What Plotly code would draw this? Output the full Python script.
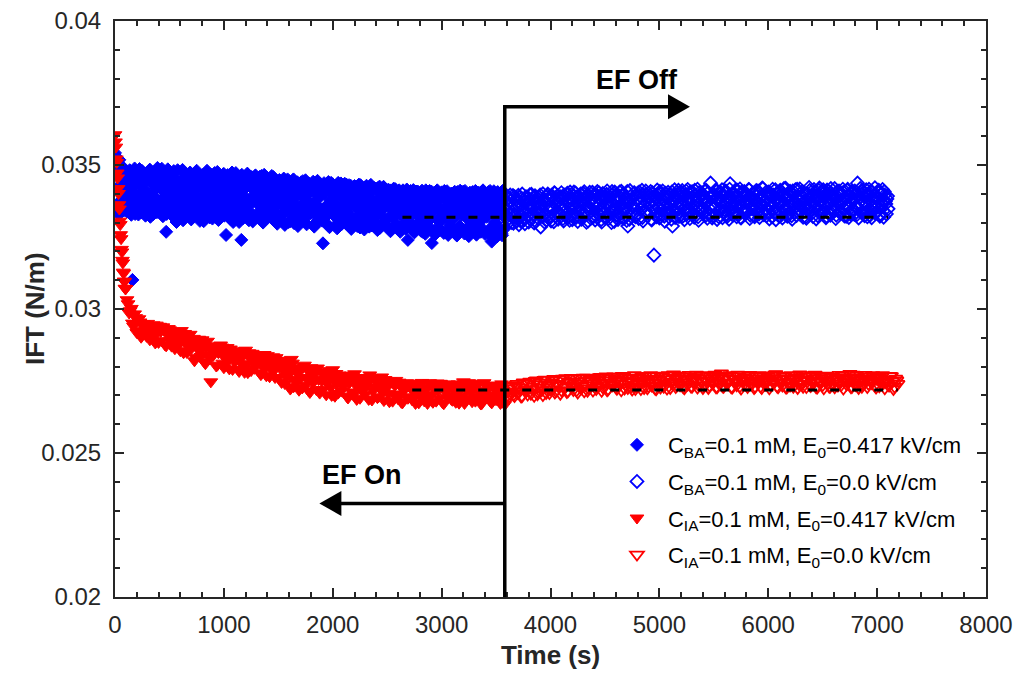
import numpy as np
import plotly.graph_objects as go

# ---------------------------------------------------------------------------
# Interfacial tension (mN/m) of the two surfactant systems.
# Each run is stored as two interleaved read-outs of the tensiometer
# (main samples and the samples half a step later).
# ---------------------------------------------------------------------------
DT_BA = 10        # s, sampling interval of each BA read-out
DT_IA = 20        # s, sampling interval of each IA read-out
T_SWITCH = 3580   # s, electric field switched off

T_BA_ON0, T_BA_ON_MID0 = 0, 5
T_BA_OFF0, T_BA_OFF_MID0 = 3590, 3595
T_IA_ON0, T_IA_ON_MID0 = 100, 110
T_IA_OFF0, T_IA_OFF_MID0 = 3590, 3600

# BA, E0 = 0.417 kV/cm, every 10 s from t = 0
ift_ba_on = [
    35.42, 33.55, 34.93, 33.31, 35.18, 34.12, 33.78, 34.64, 33.42, 34.27,
    34.71, 33.38, 34.05, 33.86, 34.52, 33.27, 31.01, 33.64, 34.88, 33.95,
    33.52, 34.63, 33.91, 34.27, 33.35, 34.79, 33.70, 34.12, 33.24, 34.45,
    34.02, 33.46, 34.84, 33.63, 34.36, 33.29, 34.58, 33.88, 34.19, 34.90,
    33.40, 34.55, 33.77, 34.87, 33.22, 34.08, 33.59, 32.68, 34.41, 33.96,
    34.68, 33.33, 34.24, 33.81, 34.79, 33.15, 34.47, 33.69, 34.02, 33.48,
    34.35, 33.90, 34.83, 33.21, 34.12, 33.58, 34.62, 33.37, 33.98, 34.74,
    33.11, 34.43, 33.75, 34.18, 33.46, 34.80, 33.62, 34.29, 33.06, 34.55,
    33.87, 34.66, 33.28, 34.09, 33.53, 34.72, 33.94, 33.18, 34.37, 33.71,
    34.58, 33.39, 34.15, 33.82, 34.76, 33.09, 34.44, 33.61, 34.03, 33.25,
    34.69, 33.74, 32.57, 34.26, 33.50, 34.61, 33.13, 34.08, 33.87, 34.40,
    33.34, 34.72, 33.65, 34.17, 33.02, 34.49, 32.40, 33.93, 34.60, 33.44,
    34.21, 33.57, 34.68, 33.08, 34.35, 33.79, 34.52, 33.26, 33.98, 34.64,
    33.69, 34.43, 33.17, 34.59, 33.85, 34.10, 33.00, 34.66, 33.48, 34.28,
    34.55, 33.31, 34.02, 33.72, 34.62, 33.12, 34.39, 33.56, 34.14, 32.96,
    33.83, 34.48, 33.23, 34.07, 33.60, 34.53, 32.92, 34.25, 33.41, 33.95,
    34.44, 33.05, 34.18, 33.66, 34.50, 33.28, 33.90, 34.33, 32.88, 34.02,
    33.52, 34.40, 33.14, 34.21, 33.73, 34.47, 32.94, 33.99, 34.36, 33.36,
    34.11, 33.44, 34.42, 32.86, 34.03, 33.62, 34.45, 33.19, 33.88, 34.29,
    33.07, 32.28, 34.37, 33.54, 34.15, 33.30, 34.41, 32.84, 33.76, 34.08,
    34.33, 33.25, 33.93, 34.19, 32.80, 34.38, 33.47, 34.01, 33.12, 34.26,
    33.58, 34.35, 32.98, 34.12, 33.38, 34.30, 33.70, 32.78, 34.22, 33.84,
    34.27, 33.16, 34.05, 33.49, 34.32, 32.83, 33.95, 34.17, 33.34, 32.76,
    33.89, 34.28, 33.03, 34.10, 33.61, 34.31, 32.90, 33.77, 34.20, 33.22,
    34.16, 32.74, 33.82, 34.25, 33.40, 33.99, 32.95, 34.23, 33.55, 34.06,
    33.10, 34.14, 33.67, 32.70, 34.09, 33.32, 34.18, 32.87, 33.91, 34.02,
    33.44, 34.12, 32.68, 33.86, 34.07, 33.21, 33.97, 32.79, 34.15, 32.40,
    33.73, 34.04, 32.96, 33.58, 34.13, 32.66, 33.89, 33.28, 34.08, 33.01,
    33.80, 32.72, 34.11, 33.37, 33.95, 32.61, 34.06, 33.52, 32.85, 34.10,
    33.15, 32.29, 33.84, 34.03, 32.59, 33.70, 34.12, 33.06, 33.92, 32.75,
    34.05, 33.42, 32.64, 33.98, 33.19, 34.09, 32.57, 33.77, 33.33, 34.01,
    32.70, 33.87, 34.07, 33.26, 32.55, 33.94, 33.60, 34.11, 32.81, 33.47,
    34.08, 32.62, 33.71, 33.99, 33.12, 32.53, 34.04, 33.55, 32.91, 33.90,
    33.36, 34.10, 32.58, 33.83, 33.05, 34.02, 32.68, 33.64, 34.12, 33.17,
    32.60, 33.93, 33.44, 34.06, 32.77, 33.68, 32.34, 33.88, 34.09, 33.00,
    33.58, 32.52, 34.03, 33.29, 33.85, 32.63, 34.10, 33.41, 32.80,
]
# BA, E0 = 0.417 kV/cm, every 10 s from t = 5
ift_ba_on_mid = [
    34.85, 33.40, 35.05, 33.70, 34.30, 33.35, 34.95, 33.92, 34.48, 33.60,
    33.50, 34.60, 33.80, 34.82, 33.45, 34.20, 33.62, 34.40, 33.30, 34.75,
    34.38, 33.28, 34.86, 33.67, 34.03, 33.44, 34.52, 33.84, 34.70, 33.33,
    33.58, 34.74, 33.20, 34.46, 33.93, 34.66, 33.48, 34.25, 33.36, 34.57,
    34.30, 33.68, 34.78, 33.45, 34.60, 33.86, 34.18, 33.30, 34.85, 33.52,
    33.95, 34.56, 33.24, 34.70, 33.56, 34.34, 33.02, 34.82, 33.40, 34.14,
    33.64, 34.50, 33.08, 34.40, 33.80, 34.68, 33.30, 34.22, 33.55, 34.06,
    34.62, 33.36, 34.05, 33.90, 34.70, 33.25, 34.35, 33.82, 34.58, 33.44,
    34.20, 33.05, 34.48, 33.66, 34.80, 33.40, 34.26, 33.58, 34.65, 33.14,
    33.80, 34.72, 33.52, 34.38, 33.20, 34.60, 33.86, 34.12, 33.48, 34.68,
    33.24, 34.44, 33.90, 34.65, 33.36, 34.18, 33.62, 34.74, 33.02, 34.30,
    34.06, 33.58, 34.56, 33.30, 34.38, 33.76, 34.66, 33.15, 34.24, 33.88,
    33.46, 34.70, 33.20, 34.46, 33.64, 34.58, 33.04, 34.12, 33.82, 34.36,
    34.52, 33.34, 34.20, 33.78, 34.62, 33.50, 34.30, 33.12, 34.56, 33.90,
    33.66, 34.46, 33.22, 34.30, 33.92, 34.58, 33.40, 34.06, 33.00, 34.40,
    34.36, 33.12, 34.10, 33.70, 34.45, 33.36, 34.00, 33.55, 34.50, 33.02,
    33.74, 34.30, 33.45, 34.48, 32.98, 34.12, 33.58, 34.40, 33.20, 34.22,
    34.26, 33.08, 34.44, 33.40, 34.05, 33.82, 34.34, 33.26, 34.18, 33.60,
    33.34, 34.36, 33.70, 34.10, 33.00, 34.40, 33.52, 34.24, 33.12, 34.02,
    34.28, 33.46, 34.00, 33.20, 34.34, 32.92, 34.12, 33.66, 34.38, 33.40,
    33.68, 34.12, 32.90, 34.30, 33.58, 34.06, 33.30, 34.36, 32.96, 33.82,
    34.20, 33.04, 34.32, 33.52, 34.02, 33.22, 34.28, 33.78, 33.00, 34.14,
    33.60, 34.24, 32.88, 34.08, 33.72, 34.30, 33.10, 34.00, 33.46, 34.22,
    33.40, 34.02, 33.66, 32.86, 34.26, 33.30, 34.12, 33.54, 33.02, 34.18,
    33.26, 34.20, 33.62, 32.82, 34.06, 33.78, 34.24, 33.14, 33.92, 34.10,
    33.84, 32.80, 34.12, 33.48, 34.00, 33.18, 33.70, 34.16, 32.94, 33.58,
    34.05, 33.30, 33.80, 32.76, 34.12, 33.56, 33.02, 34.02, 33.38, 33.90,
    33.20, 34.10, 33.50, 32.74, 33.96, 33.34, 34.08, 32.90, 33.76, 34.00,
    33.56, 34.06, 32.68, 33.90, 33.24, 34.12, 33.00, 33.66, 34.04, 33.30,
    34.08, 33.40, 32.70, 33.86, 33.58, 34.10, 32.84, 33.48, 33.98, 33.22,
    33.12, 33.90, 34.10, 32.66, 33.60, 33.30, 34.00, 32.92, 33.84, 33.50,
    33.96, 33.18, 32.62, 33.74, 34.06, 33.40, 32.88, 33.82, 33.26, 34.02,
    33.44, 34.10, 32.78, 33.60, 33.22, 33.92, 32.64, 33.80, 34.06, 33.10,
    33.88, 32.64, 33.52, 34.04, 32.90, 33.74, 33.30, 34.08, 32.72, 33.58,
    34.00, 33.20, 32.66, 33.78, 34.10, 33.36, 32.58, 33.96, 33.46, 32.88,
    33.72, 34.06, 32.70, 33.50, 33.94, 32.56, 33.80, 33.24,
]

# BA, E0 = 0.0 kV/cm, every 10 s from t = 3590
ift_ba_off = [
    33.40, 32.95, 33.82, 33.15, 33.96, 33.31, 33.68, 32.98, 33.90, 33.52,
    33.05, 33.74, 32.93, 33.88, 33.27, 33.99, 33.46, 33.11, 33.85, 33.36,
    33.62, 33.02, 33.97, 33.21, 33.80, 33.49, 32.99, 33.92, 33.34, 33.70,
    33.14, 33.87, 32.85, 33.58, 34.00, 33.25, 33.76, 33.08, 33.93, 33.44,
    33.81, 33.19, 33.95, 33.52, 33.03, 34.02, 33.37, 33.72, 33.12, 33.89,
    33.29, 34.04, 33.61, 33.06, 33.85, 33.41, 33.98, 33.17, 33.73, 34.06,
    33.50, 33.10, 33.91, 33.32, 34.03, 33.66, 33.04, 33.86, 33.45, 33.99,
    33.22, 33.79, 34.07, 33.39, 33.01, 33.94, 33.57, 34.05, 33.15, 33.83,
    33.63, 33.96, 33.09, 33.75, 34.08, 33.28, 33.87, 33.47, 33.02, 34.01,
    33.35, 33.90, 33.64, 34.10, 33.13, 33.81, 33.53, 33.00, 33.97, 33.42,
    34.06, 33.26, 33.77, 33.11, 33.92, 33.58, 34.09, 33.18, 33.70, 33.48,
    33.89, 33.07, 32.88, 33.66, 34.11, 33.33, 33.84, 33.55, 34.04, 33.20,
    33.60, 34.02, 33.14, 33.93, 33.44, 34.12, 33.06, 33.79, 33.37, 33.98,
    33.24, 33.86, 33.71, 34.08, 33.09, 33.51, 31.87, 33.95, 33.30, 34.13,
    33.78, 33.16, 33.99, 33.43, 34.10, 33.62, 33.05, 33.88, 33.34, 34.05,
    33.50, 33.94, 33.12, 32.88, 33.82, 34.14, 33.39, 33.70, 34.01, 33.21,
    33.91, 33.27, 34.11, 33.59, 33.10, 33.97, 33.46, 34.15, 33.68, 33.14,
    33.36, 34.07, 33.74, 33.19, 33.96, 33.53, 34.16, 33.08, 33.85, 33.44,
    34.03, 33.31, 33.89, 33.65, 34.12, 33.15, 33.77, 33.48, 34.37, 33.92,
    33.23, 33.98, 33.58, 34.14, 33.11, 33.86, 33.40, 34.06, 33.69, 33.17,
    33.94, 33.45, 34.10, 33.28, 33.80, 33.12, 34.35, 33.61, 33.99, 33.38,
    33.73, 34.13, 33.20, 33.90, 33.52, 34.17, 33.16, 33.83, 33.41, 34.08,
    33.30, 33.95, 33.67, 34.15, 33.14, 33.88, 33.49, 34.03, 33.24, 33.79,
    34.11, 33.39, 33.97, 33.18, 33.84, 33.58, 34.18, 33.27, 33.91, 33.46,
    33.63, 34.06, 33.13, 33.93, 33.50, 34.16, 33.35, 33.81, 33.10, 34.02,
    33.89, 33.22, 34.12, 33.70, 33.16, 33.98, 33.43, 34.19, 33.57, 33.85,
    33.34, 34.09, 33.76, 33.12, 33.95, 33.51, 34.14, 33.25, 33.87, 33.62,
    34.17, 33.41, 33.90, 33.19, 34.04, 33.66, 33.15, 33.99, 33.47, 34.11,
    33.56, 33.93, 33.21, 34.15, 33.72, 33.13, 33.86, 33.44, 34.20, 33.30,
    33.80, 34.07, 33.37, 33.96, 33.17, 34.13, 33.60, 33.89, 33.26, 34.02,
    33.48, 33.91, 34.18, 33.14, 33.83, 33.55, 34.10, 33.33, 33.97, 33.69,
    34.05, 33.23, 33.88, 33.61, 34.16, 33.18, 33.94, 33.42, 34.08, 33.75,
    33.29, 33.99, 33.52, 34.37, 33.16, 33.87, 33.64, 34.12, 33.38, 33.92,
    33.71, 34.14, 33.20, 33.95, 33.46, 34.09, 33.17, 33.84, 33.58, 34.21,
    33.36, 33.90, 34.06, 33.27, 33.79, 33.53, 34.15, 33.19, 33.96, 33.65,
    33.82, 33.48,
]
# BA, E0 = 0.0 kV/cm, every 10 s from t = 3595
ift_ba_off_mid = [
    33.62, 33.10, 33.88, 33.28, 33.75, 33.00, 33.94, 33.45, 33.18, 33.80,
    33.32, 33.95, 33.56, 33.06, 33.84, 33.40, 33.70, 32.96, 33.90, 33.24,
    33.86, 33.42, 33.12, 33.98, 33.60, 33.26, 33.92, 33.04, 33.66, 33.50,
    33.36, 33.96, 33.64, 33.22, 33.82, 33.02, 33.74, 33.48, 33.99, 33.16,
    33.56, 33.06, 33.88, 33.44, 34.04, 33.24, 33.68, 33.94, 33.32, 33.78,
    33.90, 33.42, 33.14, 33.96, 33.58, 33.28, 34.02, 33.70, 33.08, 33.84,
    33.26, 33.80, 34.06, 33.52, 33.18, 33.90, 33.38, 33.74, 33.98, 33.12,
    33.68, 34.00, 33.30, 33.86, 33.56, 33.06, 33.94, 33.40, 33.76, 34.05,
    33.20, 33.72, 33.50, 33.96, 33.34, 34.04, 33.62, 33.10, 33.88, 33.44,
    33.82, 33.16, 33.98, 33.58, 33.26, 33.90, 33.40, 34.08, 33.66, 33.04,
    33.46, 33.92, 33.24, 33.76, 34.06, 33.36, 33.62, 33.98, 33.14, 33.84,
    33.70, 34.08, 33.42, 33.12, 33.90, 33.60, 33.28, 34.02, 33.50, 33.80,
    33.26, 33.86, 34.06, 33.46, 33.72, 33.18, 33.96, 33.58, 34.10, 33.34,
    33.90, 33.40, 33.64, 33.12, 34.04, 33.76, 33.44, 33.84, 33.20, 33.98,
    33.52, 34.08, 33.28, 33.80, 33.60, 33.22, 34.02, 33.46, 33.92, 33.66,
    33.30, 33.74, 34.06, 33.40, 33.96, 33.18, 33.86, 33.56, 34.12, 33.36,
    33.64, 34.04, 33.22, 33.92, 33.50, 34.10, 33.30, 33.80, 33.44, 34.06,
    33.86, 33.26, 33.60, 34.12, 33.38, 33.78, 33.20, 34.04, 33.54, 33.94,
    33.42, 33.84, 34.10, 33.24, 33.70, 34.02, 33.32, 33.90, 33.60, 33.16,
    33.94, 33.52, 33.28, 34.08, 33.76, 33.20, 33.98, 33.46, 34.14, 33.62,
    33.34, 34.02, 33.66, 33.22, 33.88, 34.16, 33.42, 33.74, 33.26, 34.00,
    33.56, 33.90, 34.12, 33.32, 33.70, 33.18, 34.06, 33.50, 33.94, 33.36,
    33.98, 33.44, 33.76, 34.14, 33.26, 33.84, 33.58, 34.00, 33.20, 33.72,
    33.50, 34.10, 33.30, 33.88, 33.62, 34.20, 33.40, 33.76, 34.04, 33.24,
    33.86, 33.36, 34.02, 33.58, 33.20, 33.96, 33.70, 34.14, 33.32, 33.82,
    33.44, 34.06, 33.72, 33.28, 33.92, 34.18, 33.52, 33.80, 33.22, 34.00,
    33.96, 33.54, 33.24, 34.10, 33.68, 33.36, 33.90, 34.16, 33.46, 33.76,
    33.28, 33.84, 34.08, 33.52, 33.74, 33.20, 33.98, 33.42, 34.22, 33.62,
    33.90, 33.34, 33.70, 34.06, 33.48, 33.94, 33.24, 34.12, 33.60, 33.80,
    33.38, 34.14, 33.58, 33.86, 33.22, 34.02, 33.72, 33.30, 34.18, 33.52,
    33.96, 33.40, 33.82, 33.26, 34.08, 33.64, 33.98, 33.34, 33.76, 34.16,
    33.50, 33.88, 33.22, 34.12, 33.60, 33.92, 33.30, 34.04, 33.44, 33.84,
    34.10, 33.56, 33.28, 33.94, 33.70, 34.18, 33.36, 33.82, 34.02, 33.24,
    33.62, 33.96, 33.42, 34.16, 33.26, 33.78, 34.06, 33.50, 33.90, 33.32,
    33.86, 33.54, 34.12, 33.22, 33.98, 33.66, 33.40, 34.08, 33.74, 33.30,
    33.92,
]

# IA, E0 = 0.417 kV/cm: fast initial drop recorded every 4 s
t_ia_start = [0, 4, 8, 12, 16, 20, 24, 28, 32, 36, 40, 44, 48,
              52, 56, 60, 64, 68, 72, 76, 80, 84, 88, 92, 96]
ift_ia_start = [
    36.05, 35.80, 35.62, 35.21, 35.09, 34.72, 34.55, 34.18, 34.01, 33.62,
    33.47, 33.05, 32.93, 32.58, 32.44, 32.07, 31.98, 31.69, 31.60, 31.28,
    31.24, 30.97, 30.95, 30.72, 30.70,
]
# IA, E0 = 0.417 kV/cm, every 20 s from t = 100
ift_ia_on = [
    30.71, 30.18, 29.94, 29.51, 29.83, 29.18, 29.66, 29.02, 29.49, 29.27,
    29.50, 28.93, 29.36, 29.08, 29.44, 28.84, 29.22, 29.38, 28.75, 29.12,
    29.28, 28.71, 29.04, 28.88, 29.22, 28.55, 28.97, 29.15, 28.49, 28.83,
    28.62, 28.98, 28.31, 28.80, 28.52, 28.93, 28.16, 28.69, 28.41, 27.47,
    28.38, 28.72, 28.05, 28.55, 28.68, 27.96, 28.44, 28.21, 28.61, 27.90,
    28.15, 28.52, 27.83, 28.36, 28.02, 28.57, 27.79, 28.29, 28.46, 27.94,
    28.10, 28.41, 27.72, 28.24, 27.98, 28.38, 27.65, 28.17, 27.86, 28.31,
    27.62, 28.22, 27.88, 27.41, 28.07, 27.73, 28.25, 27.30, 27.95, 27.55,
    27.84, 27.26, 28.05, 27.58, 27.15, 27.96, 27.44, 27.77, 27.95, 27.08,
    27.50, 27.81, 27.02, 27.63, 27.28, 27.89, 26.97, 27.40, 27.71, 27.15,
    27.33, 27.68, 26.91, 27.52, 27.12, 27.75, 26.86, 27.45, 27.20, 27.62,
    27.04, 27.48, 27.71, 26.84, 27.30, 27.58, 26.95, 27.38, 27.10, 27.55,
    27.28, 26.78, 27.47, 27.05, 27.52, 26.88, 27.36, 26.74, 27.20, 27.44,
    26.95, 27.40, 27.13, 26.72, 27.32, 27.01, 27.45, 26.81, 27.24, 26.93,
    27.38, 26.76, 27.19, 27.43, 26.90, 27.29, 26.71, 27.11, 27.40, 26.98,
    26.83, 27.34, 27.06, 26.73, 27.26, 27.47, 26.87, 27.42, 27.15, 26.78,
    27.30, 26.95, 27.41, 26.70, 27.18, 26.89, 27.36, 27.02, 26.74, 27.27,
    26.85, 27.33, 26.72, 27.12, 26.68,
]
# IA, E0 = 0.417 kV/cm, every 20 s from t = 110
ift_ia_on_mid = [
    30.32, 29.86, 30.02, 29.40, 29.70, 29.24, 29.55, 29.10, 29.42, 29.05,
    29.30, 28.98, 29.45, 28.82, 29.18, 29.40, 28.90, 29.26, 28.72, 29.32,
    28.90, 29.18, 28.62, 29.10, 28.78, 29.25, 28.48, 29.00, 28.70, 29.12,
    28.82, 28.20, 28.66, 28.95, 28.35, 28.74, 28.10, 28.88, 28.28, 28.58,
    28.58, 28.02, 28.48, 28.75, 28.12, 28.30, 28.66, 27.92, 28.50, 28.26,
    28.40, 27.90, 28.24, 28.55, 27.80, 28.10, 28.48, 27.86, 28.32, 28.05,
    28.28, 27.78, 28.02, 28.42, 27.68, 28.20, 27.92, 28.34, 27.62, 28.12,
    27.98, 27.45, 28.20, 27.66, 27.92, 27.22, 28.12, 27.50, 27.80, 27.18,
    27.62, 28.00, 27.35, 27.88, 27.10, 27.70, 27.92, 27.20, 27.55, 27.82,
    27.20, 27.68, 27.42, 27.86, 27.00, 27.55, 27.76, 27.08, 27.60, 27.34,
    27.58, 26.96, 27.42, 27.70, 27.02, 27.36, 27.62, 26.90, 27.50, 27.24,
    27.40, 26.86, 27.60, 27.16, 27.52, 26.92, 27.26, 27.64, 26.82, 27.44,
    27.06, 27.50, 26.80, 27.34, 27.00, 27.46, 26.76, 27.18, 27.40, 26.90,
    27.30, 26.84, 27.42, 27.08, 26.74, 27.36, 26.98, 27.22, 26.72, 27.44,
    27.04, 27.32, 26.80, 27.16, 27.42, 26.74, 27.24, 26.94, 27.38, 26.86,
    27.20, 26.76, 27.40, 26.96, 27.30, 26.72, 27.14, 27.44, 26.88, 27.22,
    26.80, 27.38, 27.06, 26.72, 27.44, 26.92, 27.24, 26.78, 27.34, 27.00,
    27.22, 26.80, 27.40, 26.96,
]

# IA, E0 = 0.0 kV/cm, every 20 s from t = 3590
ift_ia_off = [
    26.92, 27.24, 27.05, 27.33, 26.98, 27.40, 27.12, 26.96, 27.45, 27.20,
    27.03, 27.48, 27.22, 26.99, 27.52, 27.10, 27.38, 27.01, 27.55, 27.28,
    27.08, 27.45, 27.57, 27.15, 27.36, 27.06, 27.58, 27.27, 27.12, 27.49,
    27.61, 27.19, 27.41, 27.10, 27.59, 27.32, 27.14, 27.62, 27.24, 27.50,
    27.17, 27.55, 27.30, 27.63, 27.16, 27.44, 27.66, 27.21, 27.52, 27.35,
    27.64, 27.23, 27.47, 27.18, 27.67, 27.38, 27.26, 27.58, 27.20, 27.70,
    27.30, 27.61, 27.22, 27.49, 27.68, 27.25, 27.56, 27.34, 27.66, 27.21,
    27.52, 27.27, 27.69, 27.36, 27.24, 27.62, 27.44, 27.73, 27.29, 27.57,
    27.35, 27.66, 27.25, 27.54, 27.71, 27.31, 27.48, 27.63, 27.27, 27.59,
    27.68, 27.33, 27.51, 27.26, 27.65, 27.42, 27.72, 27.28, 27.60, 27.76,
    27.30, 27.64, 27.45, 27.70, 27.27, 27.57, 27.35, 27.67, 27.24, 27.53,
    27.62, 27.29, 27.71, 27.40, 27.26, 27.66, 27.48, 27.31, 27.69, 27.37,
    27.55, 27.25, 27.68, 27.43, 27.74, 27.28, 27.59, 27.34, 27.65, 27.27,
    27.47, 27.70, 27.30, 27.61, 27.26, 27.73, 27.39, 27.56, 27.29, 27.67,
    27.33, 27.58, 27.72, 27.27, 27.50, 27.64, 27.25, 27.69, 27.41, 27.31,
    27.66, 27.28, 27.54, 27.71, 27.36, 27.24, 27.62, 27.45, 27.75, 27.30,
    27.52, 27.68, 27.26, 27.60, 27.38, 27.71, 27.29, 27.57, 27.43, 27.65,
    27.27, 27.63, 27.49, 27.70, 27.25, 27.55, 27.34, 27.67, 27.22, 27.58,
    27.40,
]
# IA, E0 = 0.0 kV/cm, every 20 s from t = 3600
ift_ia_off_mid = [
    27.14, 26.95, 27.30, 27.02, 27.36, 27.08, 27.26, 26.98, 27.42, 27.16,
    27.40, 27.06, 27.30, 27.50, 27.04, 27.44, 27.18, 27.54, 27.08, 27.36,
    27.22, 27.52, 27.10, 27.40, 27.56, 27.18, 27.34, 27.60, 27.14, 27.46,
    27.30, 27.58, 27.18, 27.48, 27.24, 27.62, 27.36, 27.16, 27.54, 27.42,
    27.58, 27.22, 27.44, 27.64, 27.28, 27.52, 27.18, 27.60, 27.36, 27.66,
    27.28, 27.56, 27.40, 27.68, 27.24, 27.50, 27.62, 27.30, 27.46, 27.22,
    27.60, 27.38, 27.66, 27.26, 27.54, 27.32, 27.70, 27.44, 27.24, 27.58,
    27.40, 27.64, 27.30, 27.56, 27.70, 27.26, 27.48, 27.62, 27.34, 27.68,
    27.44, 27.28, 27.60, 27.38, 27.66, 27.30, 27.56, 27.72, 27.36, 27.50,
    27.26, 27.58, 27.70, 27.34, 27.52, 27.64, 27.28, 27.46, 27.68, 27.32,
    27.60, 27.40, 27.56, 27.28, 27.66, 27.46, 27.72, 27.32, 27.50, 27.62,
    27.36, 27.68, 27.44, 27.58, 27.30, 27.52, 27.70, 27.26, 27.60, 27.48,
    27.64, 27.38, 27.52, 27.72, 27.32, 27.58, 27.44, 27.68, 27.28, 27.56,
    27.34, 27.60, 27.48, 27.68, 27.40, 27.54, 27.30, 27.64, 27.50, 27.36,
    27.70, 27.44, 27.28, 27.60, 27.46, 27.36, 27.66, 27.52, 27.30, 27.62,
    27.42, 27.58, 27.34, 27.48, 27.68, 27.54, 27.38, 27.60, 27.28, 27.72,
    27.36, 27.62, 27.46, 27.30, 27.56, 27.66, 27.40, 27.50, 27.70, 27.34,
    27.58, 27.32, 27.64, 27.44, 27.54, 27.36, 27.68, 27.48, 27.30, 27.52,
]

# Equilibrium IFT after switch-off (mN/m) and the time span it is drawn over
eq_ba = 33.19
eq_ba_span = [2640, 7100]
eq_ia = 27.19
eq_ia_span = [2730, 7190]

# Arrow / label placement (data units)
ARROW_OFF_Y = 0.03702
ARROW_OFF_TIP = 5281
ARROW_ON_Y = 0.02325
ARROW_ON_TIP = 1877

# Axis ticks
x_ticks = [0, 1000, 2000, 3000, 4000, 5000, 6000, 7000, 8000]
y_ticks = [0.02, 0.025, 0.03, 0.035, 0.04]
y_tick_text = ["0.02", "0.025", "0.03", "0.035", "0.04"]


# ---------------------------------------------------------------------------
def mn_to_n(v):
    return np.asarray(v, dtype=float) / 1000.0


def clock(t0, dt, n):
    """Sample times of a read-out starting at t0 with step dt."""
    return t0 + np.arange(n) * dt


t_ba_on = np.concatenate([clock(T_BA_ON0, DT_BA, len(ift_ba_on)),
                          clock(T_BA_ON_MID0, DT_BA, len(ift_ba_on_mid))])
y_ba_on = np.concatenate([ift_ba_on, ift_ba_on_mid])

t_ba_off = np.concatenate([clock(T_BA_OFF0, DT_BA, len(ift_ba_off)),
                           clock(T_BA_OFF_MID0, DT_BA, len(ift_ba_off_mid))])
y_ba_off = np.concatenate([ift_ba_off, ift_ba_off_mid])

t_ia_on = np.concatenate([t_ia_start,
                          clock(T_IA_ON0, DT_IA, len(ift_ia_on)),
                          clock(T_IA_ON_MID0, DT_IA, len(ift_ia_on_mid))])
y_ia_on = np.concatenate([ift_ia_start, ift_ia_on, ift_ia_on_mid])

t_ia_off = np.concatenate([clock(T_IA_OFF0, DT_IA, len(ift_ia_off)),
                           clock(T_IA_OFF_MID0, DT_IA, len(ift_ia_off_mid))])
y_ia_off = np.concatenate([ift_ia_off, ift_ia_off_mid])

BLUE = "#0000ff"
RED = "#ff0000"
FONT = "Liberation Sans, Arial, Helvetica, sans-serif"
AX_COLOR = "#262626"

fig = go.Figure()

fig.add_trace(go.Scatter(
    x=t_ba_on, y=mn_to_n(y_ba_on), mode="markers",
    name="C<sub>BA</sub>=0.1 mM, E<sub>0</sub>=0.417 kV/cm",
    legendgroup="a",
    marker=dict(symbol="diamond", size=10, color=BLUE,
                line=dict(color=BLUE, width=1)),
))
fig.add_trace(go.Scatter(
    x=t_ba_off, y=mn_to_n(y_ba_off), mode="markers",
    name="C<sub>BA</sub>=0.1 mM, E<sub>0</sub>=0.0 kV/cm",
    legendgroup="b",
    marker=dict(symbol="diamond-open", size=10, color=BLUE,
                line=dict(color=BLUE, width=1.8)),
))
fig.add_trace(go.Scatter(
    x=t_ia_on, y=mn_to_n(y_ia_on), mode="markers",
    name="C<sub>IA</sub>=0.1 mM, E<sub>0</sub>=0.417 kV/cm",
    legendgroup="c",
    marker=dict(symbol="triangle-down", size=12, color=RED,
                line=dict(color=RED, width=1)),
))
fig.add_trace(go.Scatter(
    x=t_ia_off, y=mn_to_n(y_ia_off), mode="markers",
    name="C<sub>IA</sub>=0.1 mM, E<sub>0</sub>=0.0 kV/cm",
    legendgroup="d",
    marker=dict(symbol="triangle-down-open", size=12, color=RED,
                line=dict(color=RED, width=1.8)),
))

# Equilibrium guide lines
for span, val in ((eq_ba_span, eq_ba), (eq_ia_span, eq_ia)):
    fig.add_trace(go.Scatter(
        x=span, y=mn_to_n([val, val]), mode="lines", showlegend=False,
        hoverinfo="skip",
        line=dict(color="black", width=3, dash="9px,13px"),
    ))

shapes = [
    # field switch-off marker with the "EF Off" branch
    dict(type="path", xref="x", yref="y", layer="above",
         path=(f"M {T_SWITCH},{y_ticks[0]} L {T_SWITCH},{ARROW_OFF_Y} "
               f"L {ARROW_OFF_TIP - 120},{ARROW_OFF_Y}"),
         line=dict(color="black", width=3.5)),
    # "EF On" branch
    dict(type="path", xref="x", yref="y", layer="above",
         path=f"M {T_SWITCH},{ARROW_ON_Y} L {ARROW_ON_TIP + 120},{ARROW_ON_Y}",
         line=dict(color="black", width=3.5)),
    # arrow heads
    dict(type="path", xref="x", yref="y", xsizemode="pixel", ysizemode="pixel",
         xanchor=ARROW_OFF_TIP, yanchor=ARROW_OFF_Y,
         path="M 0,0 L -22,12.5 L -22,-12.5 Z",
         fillcolor="black", line=dict(width=0)),
    dict(type="path", xref="x", yref="y", xsizemode="pixel", ysizemode="pixel",
         xanchor=ARROW_ON_TIP, yanchor=ARROW_ON_Y,
         path="M 0,0 L 22,12.5 L 22,-12.5 Z",
         fillcolor="black", line=dict(width=0)),
]

annotations = [
    dict(x=4790, y=0.03795, xref="x", yref="y", text="<b>EF Off</b>",
         showarrow=False, xanchor="center", yanchor="middle",
         font=dict(family=FONT, size=27, color="black")),
    dict(x=2273, y=0.02424, xref="x", yref="y", text="<b>EF On</b>",
         showarrow=False, xanchor="center", yanchor="middle",
         font=dict(family=FONT, size=27, color="black")),
    # y-axis title
    dict(x=-0.0918, y=0.5, xref="paper", yref="paper", text="<b>IFT (N/m)</b>",
         showarrow=False, textangle=-90, xanchor="center", yanchor="middle",
         font=dict(family=FONT, size=26, color=AX_COLOR)),
]

axis_common = dict(
    showgrid=False, zeroline=False, showline=True, mirror="allticks",
    linecolor=AX_COLOR, linewidth=2, ticks="inside", tickcolor=AX_COLOR,
    tickwidth=1.5, ticklen=9,
    tickfont=dict(family=FONT, size=24, color=AX_COLOR),
)

fig.update_layout(
    width=1016, height=673,
    margin=dict(l=115, r=30, t=21, b=76, autoexpand=False),
    paper_bgcolor="white", plot_bgcolor="white",
    font=dict(family=FONT),
    xaxis=dict(
        range=[0, 8000], tickvals=x_ticks, ticklabelstandoff=5,
        minor=dict(ticks="inside", dtick=200, ticklen=5, tickcolor=AX_COLOR, tickwidth=1.5),
        title=dict(text="<b>Time (s)</b>", standoff=9,
                   font=dict(family=FONT, size=26, color=AX_COLOR)),
        **axis_common,
    ),
    yaxis=dict(
        range=[0.02, 0.04], tickvals=y_ticks, ticktext=y_tick_text,
        ticklabelstandoff=7,
        minor=dict(ticks="inside", dtick=0.001, ticklen=5, tickcolor=AX_COLOR, tickwidth=1.5),
        **axis_common,
    ),
    legend=dict(
        x=0.5637, y=0.3003, xanchor="left", yanchor="top",
        bgcolor="rgba(0,0,0,0)", borderwidth=0,
        font=dict(family=FONT, size=22, color="black"),
        itemwidth=52, tracegroupgap=5, traceorder="grouped",
    ),
    shapes=shapes,
    annotations=annotations,
)

fig.write_html("out.html", config={"displayModeBar": False})
